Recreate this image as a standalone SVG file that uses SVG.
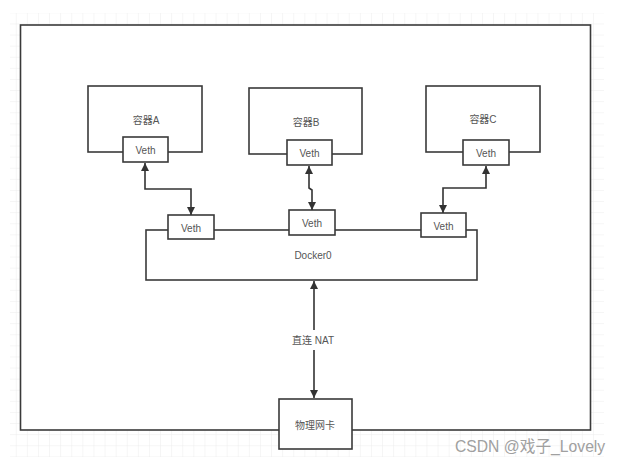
<svg xmlns="http://www.w3.org/2000/svg" width="622" height="463" viewBox="0 0 622 463">
  <defs>
    <pattern id="grid" x="5.6" y="2.2" width="11.1" height="11.1" patternUnits="userSpaceOnUse">
      <path d="M11.1 0 V11.1 M0 11.1 H11.1" fill="none" stroke="#ececec" stroke-width="1"/>
    </pattern>
    <marker id="arr" viewBox="0 0 10 10" refX="10" refY="5" markerWidth="8" markerHeight="8" markerUnits="userSpaceOnUse" orient="auto-start-reverse">
      <path d="M0 0 L10 5 L0 10 Z" fill="#333"/>
    </marker>
  </defs>
  <style>
    .box { fill: #fff; stroke: #3a3a3a; stroke-width: 1.6; }
    .lbl { font-family: "Liberation Sans", "Noto Sans CJK SC", sans-serif; font-size: 10px; fill: #555; text-anchor: middle; dominant-baseline: central; }
    .conn { fill: none; stroke: #333; stroke-width: 1.6; }
  </style>
  <rect width="622" height="463" fill="#fff"/>
  <rect x="10" y="13" width="594" height="444" fill="url(#grid)"/>

  <g id="host">
    <rect class="box" x="20.5" y="25" width="570" height="405" stroke-width="2"/>
  </g>

  <g id="containerA">
    <rect class="box" x="88" y="86" width="114" height="66"/>
    <text class="lbl" x="146" y="120">容器A</text>
  </g>
  <g id="containerB">
    <rect class="box" x="249" y="88" width="113" height="66"/>
    <text class="lbl" x="306" y="122">容器B</text>
  </g>
  <g id="containerC">
    <rect class="box" x="426" y="86" width="114" height="66"/>
    <text class="lbl" x="483" y="119">容器C</text>
  </g>

  <g id="docker0">
    <rect class="box" x="146" y="230" width="331" height="50"/>
    <text class="lbl" x="313" y="255">Docker0</text>
  </g>

  <g id="vethA">
    <rect class="box" x="123" y="137" width="45" height="25"/>
    <text class="lbl" x="145.5" y="150">Veth</text>
  </g>
  <g id="vethB">
    <rect class="box" x="287" y="140" width="45" height="25"/>
    <text class="lbl" x="309.5" y="153">Veth</text>
  </g>
  <g id="vethC">
    <rect class="box" x="463" y="140" width="46" height="25"/>
    <text class="lbl" x="486" y="153">Veth</text>
  </g>
  <g id="vethA2">
    <rect class="box" x="168" y="215" width="46" height="24"/>
    <text class="lbl" x="191" y="228">Veth</text>
  </g>
  <g id="vethB2">
    <rect class="box" x="289" y="210" width="46" height="25"/>
    <text class="lbl" x="312" y="223">Veth</text>
  </g>
  <g id="vethC2">
    <rect class="box" x="421" y="213" width="45" height="24"/>
    <text class="lbl" x="443.5" y="226">Veth</text>
  </g>

  <g id="nic">
    <rect class="box" x="279" y="399" width="73" height="50"/>
    <text class="lbl" x="315" y="425">物理网卡</text>
  </g>

  <g id="connectors">
    <path class="conn" d="M145 163 V189 H191 V215" marker-start="url(#arr)" marker-end="url(#arr)"/>
    <path class="conn" d="M309 166 V188 L312 190 V210" marker-start="url(#arr)" marker-end="url(#arr)"/>
    <path class="conn" d="M486 166 V188 H443 V213" marker-start="url(#arr)" marker-end="url(#arr)"/>
    <path class="conn" d="M314 281 V330" marker-start="url(#arr)"/>
    <path class="conn" d="M314 350 V398" marker-end="url(#arr)"/>
    <text class="lbl" x="313" y="340">直连 NAT</text>
  </g>

  <text x="455" y="452" font-family="'Liberation Sans', 'Noto Sans CJK SC', sans-serif" font-size="15.7" fill="#a0a0a0">CSDN @戏子_Lovely</text>
</svg>
